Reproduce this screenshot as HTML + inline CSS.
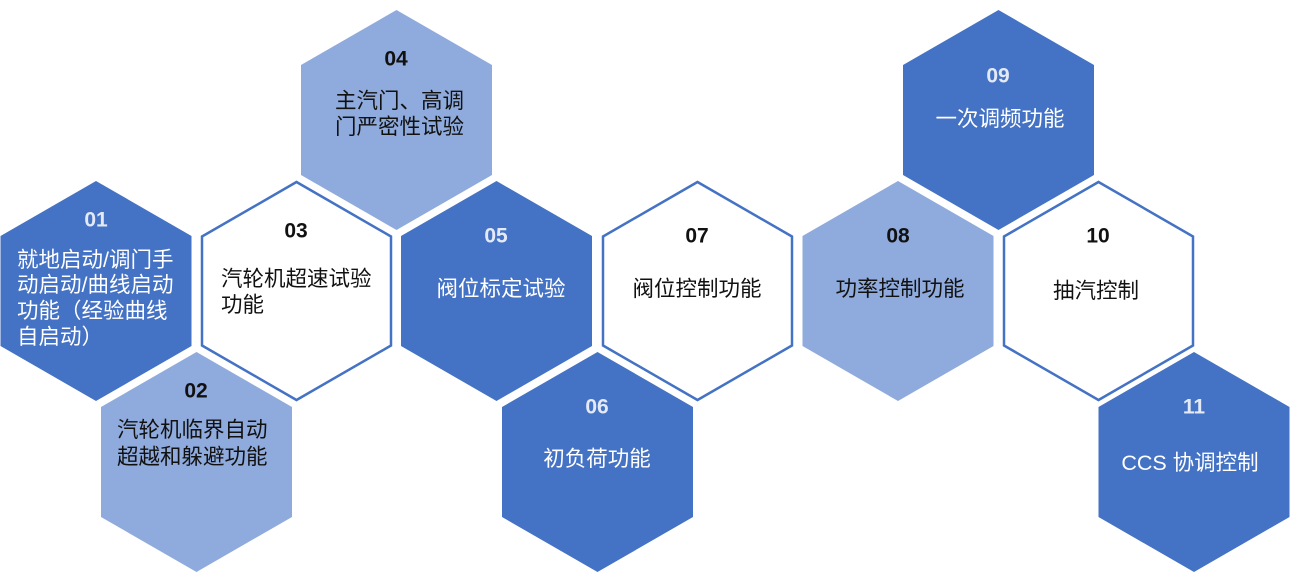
<!DOCTYPE html>
<html><head><meta charset="utf-8"><style>
html,body{margin:0;padding:0;background:#fff;}
svg{display:block;font-family:"Liberation Sans","Noto Sans CJK SC",sans-serif;}
.n{font-weight:bold;font-size:21px;text-anchor:middle;}
.t{font-size:21.5px;}
.c{text-anchor:middle;}
.w{fill:#fff}.k{fill:#111}
</style></head><body>
<svg width="1291" height="581" viewBox="0 0 1291 581" xmlns="http://www.w3.org/2000/svg">
<defs>
<polygon id="h" points="0,-110 95.5,-55 95.5,55 0,110 -95.5,55 -95.5,-55"/>
<polygon id="ho" points="0,-109 94.5,-54.5 94.5,54.5 0,109 -94.5,54.5 -94.5,-54.5"/>
</defs>
<use href="#h" x="96" y="291" fill="#4472C4"/>
<use href="#h" x="196.5" y="462" fill="#8FAADC"/>
<use href="#ho" x="296.5" y="291" fill="#fff" stroke="#4472C4" stroke-width="2.5"/>
<use href="#h" x="396.5" y="120" fill="#8FAADC"/>
<use href="#h" x="496.5" y="291" fill="#4472C4"/>
<use href="#h" x="597.5" y="462" fill="#4472C4"/>
<use href="#ho" x="697.5" y="291" fill="#fff" stroke="#4472C4" stroke-width="2.5"/>
<use href="#h" x="898" y="291" fill="#8FAADC"/>
<use href="#h" x="998.5" y="120" fill="#4472C4"/>
<use href="#ho" x="1098.5" y="291" fill="#fff" stroke="#4472C4" stroke-width="2.5"/>
<use href="#h" x="1194" y="462" fill="#4472C4"/>

<g dominant-baseline="central">
<text class="n" x="96" y="220" fill="#e4eaf5">01</text>
<text class="t w" x="17" y="260">就地启动/调门手</text>
<text class="t w" x="17" y="285">动启动/曲线启动</text>
<text class="t w" x="17" y="311">功能（经验曲线</text>
<text class="t w" x="17" y="337">自启动）</text>

<text class="n k" x="196" y="391">02</text>
<text class="t k" x="117" y="430">汽轮机临界自动</text>
<text class="t k" x="117" y="457">超越和躲避功能</text>

<text class="n k" x="296" y="231">03</text>
<text class="t k" x="221" y="279">汽轮机超速试验</text>
<text class="t k" x="221" y="305">功能</text>

<text class="n k" x="396" y="59">04</text>
<text class="t k" x="335" y="101">主汽门、高调</text>
<text class="t k" x="335" y="127">门严密性试验</text>

<text class="n" x="496" y="236" fill="#e4eaf5">05</text>
<text class="t w c" x="501" y="289">阀位标定试验</text>

<text class="n" x="597" y="407" fill="#e4eaf5">06</text>
<text class="t w c" x="597" y="459">初负荷功能</text>

<text class="n k" x="697" y="236">07</text>
<text class="t k c" x="697" y="289">阀位控制功能</text>

<text class="n k" x="898" y="236">08</text>
<text class="t k c" x="900" y="289">功率控制功能</text>

<text class="n" x="998" y="76" fill="#e4eaf5">09</text>
<text class="t w c" x="1000" y="119">一次调频功能</text>

<text class="n k" x="1098" y="236">10</text>
<text class="t k c" x="1096" y="291">抽汽控制</text>

<text class="n" x="1194" y="407" fill="#e4eaf5">11</text>
<text class="t w c" x="1190" y="463">CCS 协调控制</text>
</g>
</svg>
</body></html>
